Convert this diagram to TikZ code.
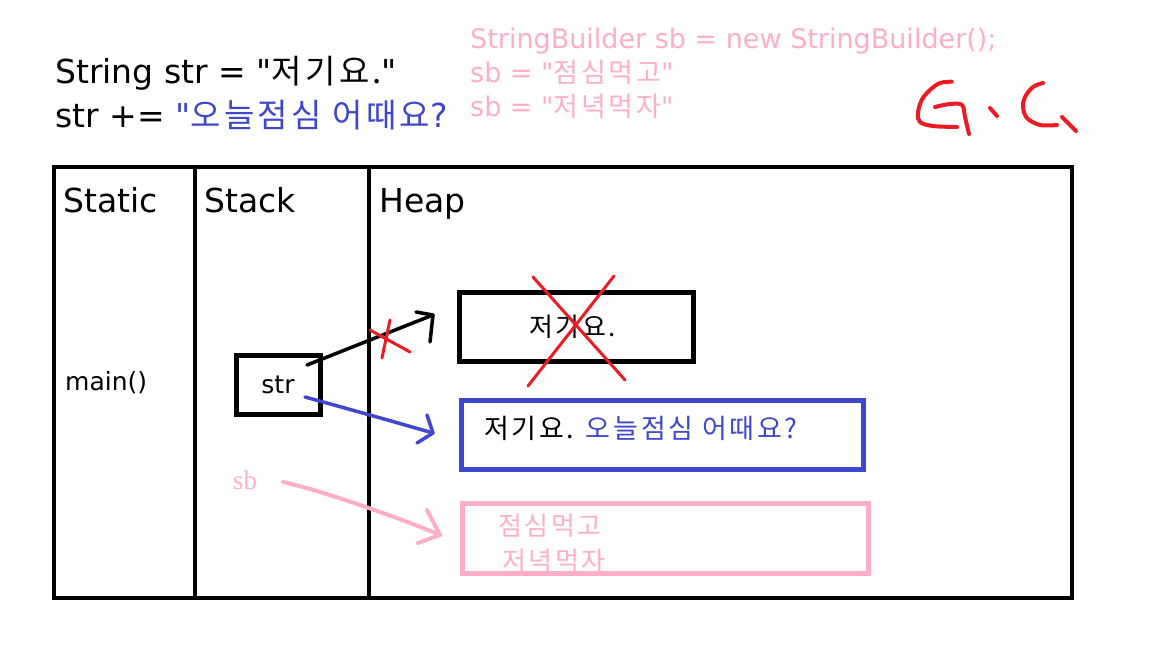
\documentclass[tikz,border=0pt]{standalone}
\usepackage{fontspec}
\setmainfont[Ligatures=TeXOff]{DejaVu Sans}
\newfontfamily\kr[Ligatures=TeXOff, LetterSpace=10]{Noto Sans CJK KR}
\newfontfamily\sbfont{Liberation Serif}
\definecolor{rose}{RGB}{255,174,201}
\definecolor{indigo}{RGB}{63,72,204}
\definecolor{pred}{RGB}{237,28,36}
\begin{document}
\begin{tikzpicture}[x=1pt, y=-1pt,
  txt/.style={inner sep=0, anchor=base west},
  col/.style={draw, line width=4, anchor=north west, minimum height=431, inner sep=0},
  obj/.style={draw, line width=5, inner sep=0},
  hand/.style={line width=3.5, line cap=round, line join=round}]
\useasboundingbox (0,0) rectangle (1152,648);
\node[txt, font=\fontsize{33}{40}\selectfont] (code0) at (55,83) {String str = "{\kr 저기요.}"};
\node[txt, font=\fontsize{33}{40}\selectfont] (code1) at (55,127) {str += \textcolor{indigo}{"{\kr 오늘점심 어때요}?}};
\node[txt, rose, font=\fontsize{27}{30}\selectfont] (sbl0) at (470,48) {StringBuilder sb = new StringBuilder();};
\node[txt, rose, font=\fontsize{27}{30}\selectfont] (sbl1) at (470,82) {sb = "{\kr 점심먹고}"};
\node[txt, rose, font=\fontsize{27}{30}\selectfont] (sbl2) at (470,116) {sb = "{\kr 저녁먹자}"};
\node[col, minimum width=141] (colS) at (52,165) {};
\node[col, minimum width=174] (colT) at (193,165) {};
\node[col, minimum width=703] (colH) at (367,165) {};
\node[txt, font=\fontsize{33}{40}\selectfont] (lblS) at (63,212) {Static};
\node[txt, font=\fontsize{33}{40}\selectfont] (lblT) at (204,212) {Stack};
\node[txt, font=\fontsize{33}{40}\selectfont] (lblH) at (379,212) {Heap};
\node[txt, font=\fontsize{25}{30}\selectfont] (mainf) at (65,390) {main()};
\node[obj, minimum width=84, minimum height=59, font=\fontsize{25}{30}\selectfont] (strbox) at (278,384.5) {str};
\node[obj, minimum width=234, minimum height=69, font=\kr\fontsize{26}{30}\selectfont] (obj0) at (576.5,327) {\hspace*{-8pt}저기요.};
\node[txt, font=\kr\fontsize{27}{30}\selectfont] (txt1) at (484,438) {저기요. \textcolor{indigo}{오늘점심 어때요?}};
\node[obj, indigo, minimum width=402, minimum height=69] (obj1) at (662.5,435) {};
\node[txt, rose, font=\kr\fontsize{26}{30}\selectfont] (txt2a) at (498,535) {점심먹고};
\node[txt, rose, font=\kr\fontsize{26}{30}\selectfont] (txt2b) at (502,570) {저녁먹자};
\node[obj, rose, minimum width=406, minimum height=70] (obj2) at (665,538) {};
\node[txt, rose, font=\sbfont\fontsize{27}{30}\selectfont] (sbv) at (233,489) {sb};
\coordinate (t0) at (307,365);
\coordinate (h0) at (433,315);
\coordinate (t1) at (305,397);
\coordinate (h1) at (433,433);
\coordinate (t2) at (283,482);
\coordinate (h2) at (440,535);
\draw[hand] (t0) .. controls (350,348) and (395,330) .. (h0);
\draw[hand] (416,312) -- (h0) -- (430,342);
\draw[hand, indigo] (t1) .. controls (345,408) and (395,422) .. (h1);
\draw[hand, indigo] (427,415) -- (h1) -- (417,443);
\draw[hand, rose, line width=4] (t2) .. controls (320,490) and (400,518) .. (h2);
\draw[hand, rose, line width=4] (427,510) -- (h2) -- (418,543);
\draw[hand, pred, line width=3] (370,330) -- (410,352);
\draw[hand, pred, line width=3] (390,320) -- (382,358);
\draw[hand, pred, line width=3] (533,277) -- (625,380);
\draw[hand, pred, line width=3] (614,276) -- (528,386);
\draw[hand, pred, line width=4] plot[smooth, tension=0.6] coordinates {(951.7,81.7) (940,83) (930,90) (921.7,100) (918,113) (920,122) (933,126) (957,127)};
\draw[hand, pred, line width=4] plot[smooth, tension=0.6] coordinates {(935,107) (950,104) (962,105) (965,117) (969,134)};
\draw[hand, pred, line width=4] (990,108) -- (997,116);
\draw[hand, pred, line width=4] plot[smooth, tension=0.6] coordinates {(1043,83) (1033,87) (1025,97) (1023,107) (1027,118) (1040,125) (1057,125)};
\draw[hand, pred, line width=4] (1062,117) -- (1076,131);
\end{tikzpicture}
\end{document}
